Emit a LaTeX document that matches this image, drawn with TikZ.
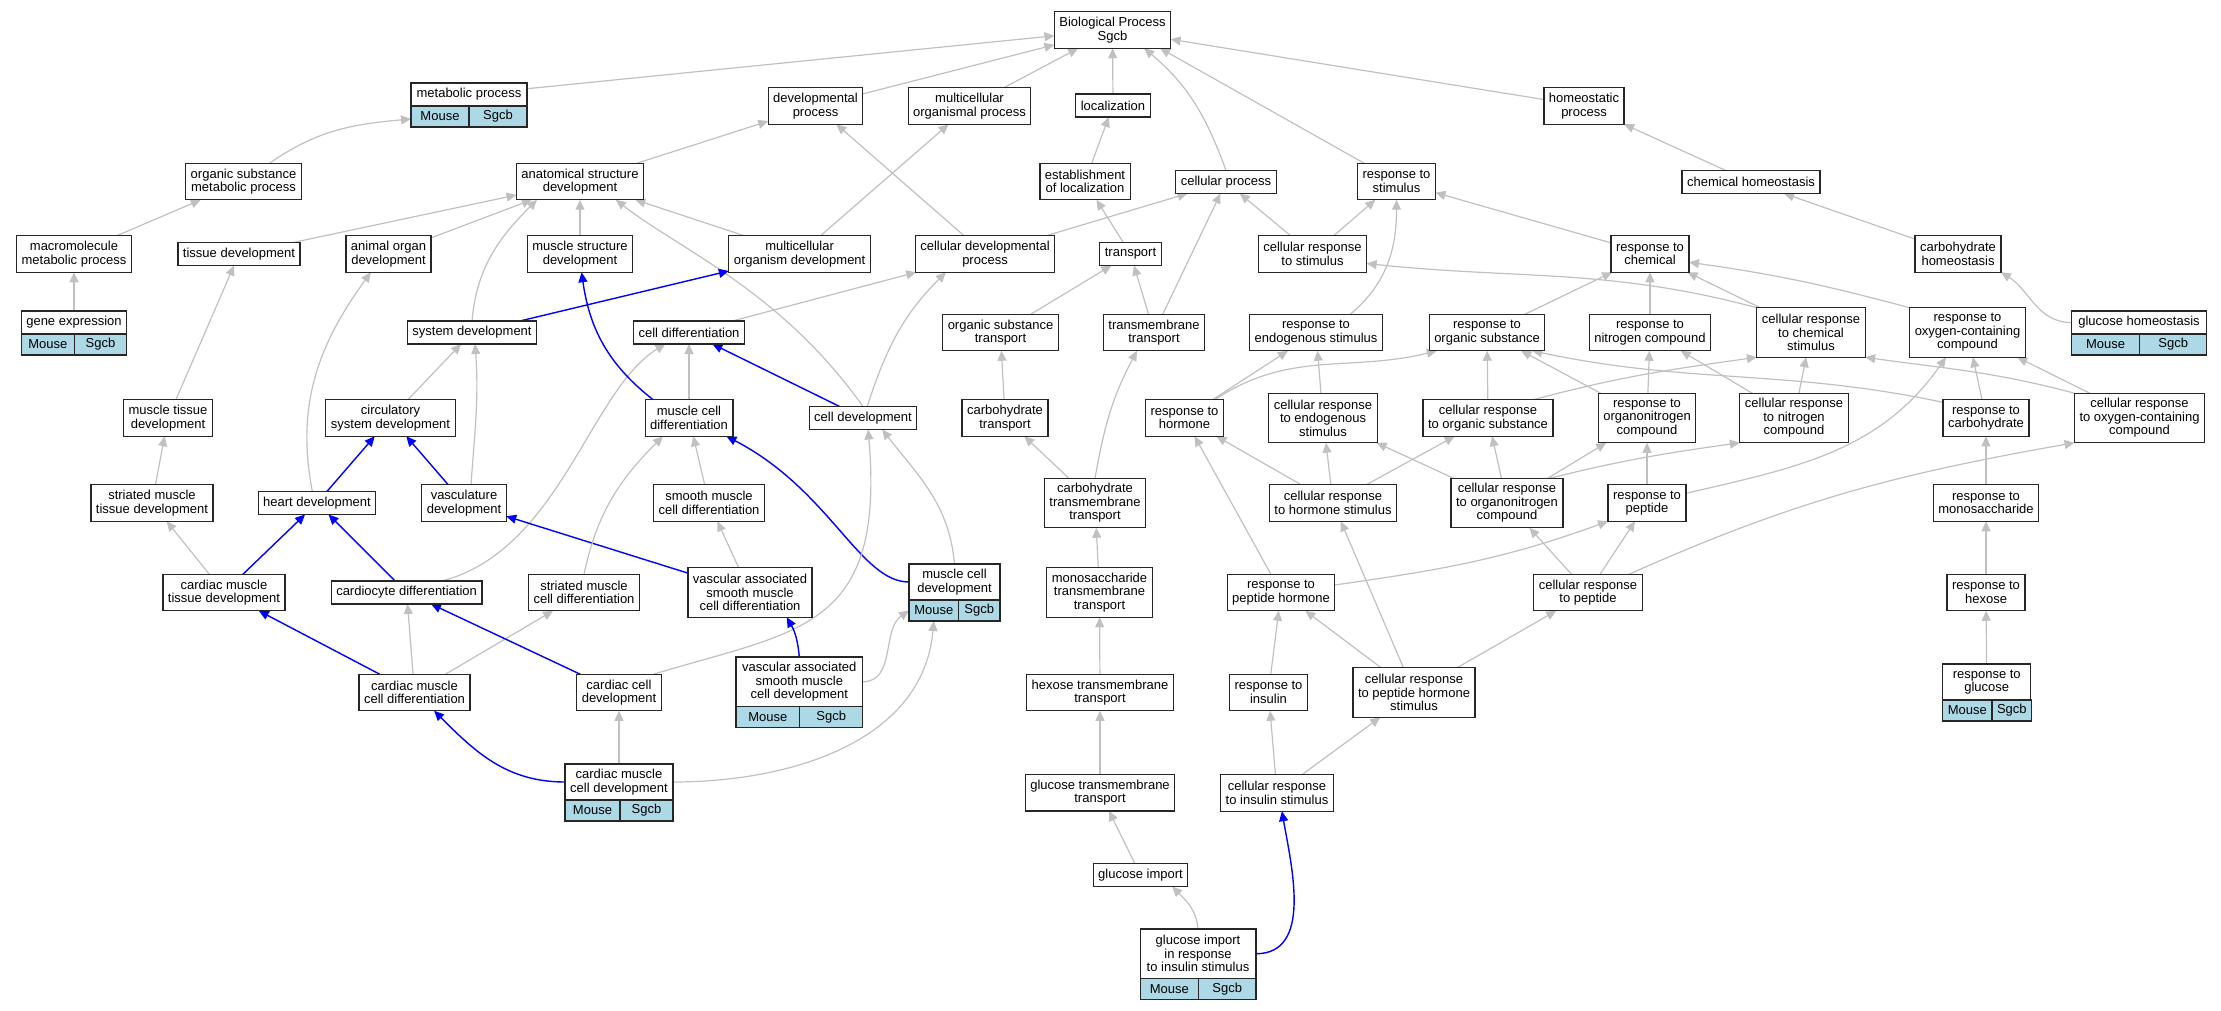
\documentclass[tikz,border=0pt]{standalone}
\usepackage{fontspec}
\setmainfont{Liberation Sans}
\usepackage{tikz}
\usetikzlibrary{arrows.meta,backgrounds}
\definecolor{edgegray}{HTML}{C0C0C0}
\definecolor{cellblue}{HTML}{ADD8E6}

\begin{document}
\begin{tikzpicture}[
    term/.style={rectangle,draw=black!85,line width=1.2pt,fill=white,align=center,
      inner xsep=5pt,inner ysep=1pt,outer sep=0pt,font=\fontsize{13}{13.5}\selectfont},
    term1/.style={term,minimum height=23pt},
    term2/.style={term,minimum height=36.5pt},
    term3/.style={term,minimum height=49.5pt},
    genecell/.style={term,fill=cellblue,minimum height=21pt,anchor=north west},
    isa/.style={draw=edgegray,line width=1.2pt,-{Triangle[length=10pt,width=9pt]}},
    hit/.style={draw=blue,line width=1.4pt,-{Triangle[length=10pt,width=9pt]}},
    x=1pt,y=1pt
    ]
    \useasboundingbox (0,0) rectangle (2221,-1011);
    \node[term2](bp) at (1112.5,-30){Biological Process\\Sgcb};
    \node[term1,minimum width=116pt](metab) at (469,-94.5){metabolic process};
    \node[genecell,minimum width=58pt](metabm) at (metab.south west){Mouse};
    \node[genecell,minimum width=58pt](metabs) at (metabm.north east){Sgcb};
    \node[term2](devp) at (815.5,-106){developmental\\process};
    \node[term2](mop) at (969.5,-106){multicellular\\organismal process};
    \node[term1](loc) at (1113,-105.5){localization};
    \node[term2](hp) at (1584,-106){homeostatic\\process};
    \node[term2](osmp) at (243.5,-181.5){organic substance\\metabolic process};
    \node[term2](asd) at (580,-181.5){anatomical structure\\development};
    \node[term2](estloc) at (1085,-181.5){establishment\\of localization};
    \node[term1](cellp) at (1226,-182){cellular process};
    \node[term2](rstim) at (1396.5,-181.5){response to\\stimulus};
    \node[term1](chemh) at (1751,-182){chemical homeostasis};
    \node[term2](mmp) at (74,-254){macromolecule\\metabolic process};
    \node[term1](tissued) at (239,-254){tissue development};
    \node[term2](aod) at (388.5,-254){animal organ\\development};
    \node[term2](msd) at (580,-254){muscle structure\\development};
    \node[term2](mod) at (799.6,-254){multicellular\\organism development};
    \node[term2](cdp) at (985,-254){cellular developmental\\process};
    \node[term1](transp) at (1130.5,-254){transport};
    \node[term2](crstim) at (1312.5,-254){cellular response\\to stimulus};
    \node[term2](rchem) at (1650,-254){response to\\chemical};
    \node[term2](carbh) at (1958,-254){carbohydrate\\homeostasis};
    \node[term1,minimum width=105.4pt](genex) at (74,-322.5){gene expression};
    \node[genecell,minimum width=53pt](genexm) at (genex.south west){Mouse};
    \node[genecell,minimum width=52.4pt](genexs) at (genexm.north east){Sgcb};
    \node[term1](sysd) at (472,-332.5){system development};
    \node[term1](celldiff) at (689,-332.5){cell differentiation};
    \node[term2](ostr) at (1000.5,-332.5){organic substance\\transport};
    \node[term2](tmt) at (1154,-332.5){transmembrane\\transport};
    \node[term2](rendo) at (1316,-332.5){response to\\endogenous stimulus};
    \node[term2](rorg) at (1487,-332.5){response to\\organic substance};
    \node[term2](rnitro) at (1650,-332.5){response to\\nitrogen compound};
    \node[term3](crchem) at (1811,-332.5){cellular response\\to chemical\\stimulus};
    \node[term3](roxy) at (1967.5,-332.5){response to\\oxygen-containing\\compound};
    \node[term1,minimum width=135.5pt](glch) at (2139,-322.5){glucose homeostasis};
    \node[genecell,minimum width=68.5pt](glchm) at (glch.south west){Mouse};
    \node[genecell,minimum width=67pt](glchs) at (glchm.north east){Sgcb};
    \node[term2](mtd) at (168,-418){muscle tissue\\development};
    \node[term2](csd) at (390.5,-418){circulatory\\system development};
    \node[term2](mcdiff) at (689,-418){muscle cell\\differentiation};
    \node[term1](celldev) at (863,-418){cell development};
    \node[term2](carbtr) at (1005,-418){carbohydrate\\transport};
    \node[term2](rhorm) at (1184.5,-418){response to\\hormone};
    \node[term3](crendo) at (1323,-418){cellular response\\to endogenous\\stimulus};
    \node[term2](crorg) at (1488,-418){cellular response\\to organic substance};
    \node[term3](ronitro) at (1647,-418){response to\\organonitrogen\\compound};
    \node[term3](crnitro) at (1794,-418){cellular response\\to nitrogen\\compound};
    \node[term2](rcarb) at (1986,-418){response to\\carbohydrate};
    \node[term3](croxy) at (2139.5,-418){cellular response\\to oxygen-containing\\compound};
    \node[term2](smtd) at (152,-503){striated muscle\\tissue development};
    \node[term1](heartd) at (317,-503){heart development};
    \node[term2](vascd) at (464,-503){vasculature\\development};
    \node[term2](smcd) at (709,-503){smooth muscle\\cell differentiation};
    \node[term3](cttr) at (1095,-503){carbohydrate\\transmembrane\\transport};
    \node[term2](crhorm) at (1333,-503){cellular response\\to hormone stimulus};
    \node[term3](cronitro) at (1507,-503){cellular response\\to organonitrogen\\compound};
    \node[term2](rpep) at (1647,-503){response to\\peptide};
    \node[term2](rmono) at (1986,-503){response to\\monosaccharide};
    \node[term2](cmtd) at (224,-592.5){cardiac muscle\\tissue development};
    \node[term1](cardio) at (406.6,-592.5){cardiocyte differentiation};
    \node[term2](strmcd) at (584,-592.5){striated muscle\\cell differentiation};
    \node[term3](vasmcd) at (750,-592.5){vascular associated\\smooth muscle\\cell differentiation};
    \node[term2,minimum height=36pt,minimum width=91pt](mcdev) at (954.5,-582){muscle cell\\development};
    \node[genecell,minimum width=49.6pt](mcdevm) at (mcdev.south west){Mouse};
    \node[genecell,minimum width=41.4pt](mcdevs) at (mcdevm.north east){Sgcb};
    \node[term3](mstr) at (1099.5,-592.5){monosaccharide\\transmembrane\\transport};
    \node[term2](rphorm) at (1281,-592.5){response to\\peptide hormone};
    \node[term2](crpep) at (1588,-592.5){cellular response\\to peptide};
    \node[term2](rhex) at (1986,-592.5){response to\\hexose};
    \node[term2](cmcd) at (414.5,-692.5){cardiac muscle\\cell differentiation};
    \node[term2](ccd) at (619,-692.5){cardiac cell\\development};
    \node[term3,minimum width=126.6pt](vasdev) at (799.3,-681.75){vascular associated\\smooth muscle\\cell development};
    \node[genecell,minimum width=63.8pt](vasdevm) at (vasdev.south west){Mouse};
    \node[genecell,minimum width=62.8pt](vasdevs) at (vasdevm.north east){Sgcb};
    \node[term2](htr) at (1100,-692.5){hexose transmembrane\\transport};
    \node[term2](rins) at (1268.5,-692.5){response to\\insulin};
    \node[term3](crphorm) at (1414,-692.5){cellular response\\to peptide hormone\\stimulus};
    \node[term2,minimum height=36pt,minimum width=88pt](rgluc) at (1986.7,-682){response to\\glucose};
    \node[genecell,minimum width=49.3pt](rglucm) at (rgluc.south west){Mouse};
    \node[genecell,minimum width=38.7pt](rglucs) at (rglucm.north east){Sgcb};
    \node[term2,minimum height=36pt,minimum width=108pt](cmcdev) at (619,-782){cardiac muscle\\cell development};
    \node[genecell,minimum width=55pt](cmcdevm) at (cmcdev.south west){Mouse};
    \node[genecell,minimum width=53pt](cmcdevs) at (cmcdevm.north east){Sgcb};
    \node[term2](gtr) at (1100,-792.7){glucose transmembrane\\transport};
    \node[term2](crins) at (1277,-793){cellular response\\to insulin stimulus};
    \node[term1](gimp) at (1140.5,-875){glucose import};
    \node[term3,minimum width=115.8pt](girs) at (1198,-953.75){glucose import\\in response\\to insulin stimulus};
    \node[genecell,minimum width=58.4pt](girsm) at (girs.south west){Mouse};
    \node[genecell,minimum width=57.4pt](girss) at (girsm.north east){Sgcb};
    \begin{scope}[on background layer]
    \draw[isa] (metab) -- (bp);
    \draw[isa] (devp) -- (bp);
    \draw[isa] (mop) -- (bp);
    \draw[isa] (loc) -- (bp);
    \draw[isa] (cellp.north) to[out=110,in=-40] (bp.-30);
    \draw[isa] (rstim) -- (bp.-21);
    \draw[isa] (hp) -- (bp);
    \draw[isa] (osmp) to[out=35,in=185] (metabm);
    \draw[isa] (mmp) -- (osmp);
    \draw[isa] (genex) -- (mmp);
    \draw[isa] (asd) -- (devp);
    \draw[isa] (tissued) -- (asd);
    \draw[isa] (aod) -- (asd);
    \draw[isa] (msd) -- (asd);
    \draw[isa] (sysd.north) to[out=85,in=225] (asd.203);
    \draw[isa] (mod) -- (asd);
    \draw[isa] (celldev.north) .. controls (780,-290) and (680,-250) .. (asd.-27);
    \draw[isa] (mod) -- (mop);
    \draw[isa] (cdp) -- (devp);
    \draw[isa] (cdp) -- (cellp);
    \draw[isa] (celldiff) -- (cdp);
    \draw[isa] (celldev.70) to[out=72,in=225] (cdp.205);
    \draw[isa] (estloc) -- (loc);
    \draw[isa] (transp) -- (estloc);
    \draw[isa] (tmt) -- (transp);
    \draw[isa] (tmt) -- (cellp);
    \draw[isa] (ostr) -- (transp);
    \draw[isa] (crstim) -- (cellp);
    \draw[isa] (crstim) -- (rstim);
    \draw[isa] (rendo.28) to[out=40,in=-90] (rstim.south);
    \draw[isa] (rchem) -- (rstim);
    \draw[isa] (crchem.north west) to[out=165,in=-6] (crstim.-10);
    \draw[isa] (crchem) -- (rchem);
    \draw[isa] (rorg) -- (rchem);
    \draw[isa] (rnitro) -- (rchem);
    \draw[isa] (roxy.north west) to[out=165,in=-8] (rchem.-12);
    \draw[isa] (chemh) -- (hp);
    \draw[isa] (carbh) -- (chemh);
    \draw[isa] (glch.west) to[out=180,in=-32] (carbh.-23);
    \draw[hit] (sysd) -- (mod);
    \draw[isa] (mtd) -- (tissued);
    \draw[isa] (heartd.112) to[out=101,in=-126] (aod.-134);
    \draw[isa] (csd) -- (sysd);
    \draw[isa] (vascd.69) to[out=86,in=-86] (sysd.-75);
    \draw[hit] (heartd) -- (csd);
    \draw[hit] (vascd) -- (csd);
    \draw[isa] (smtd) -- (mtd);
    \draw[isa] (cmtd) -- (smtd);
    \draw[hit] (cmtd) -- (heartd);
    \draw[hit] (cardio) -- (heartd);
    \draw[isa] (cardio.18) .. controls (560,-550) and (590,-390) .. (celldiff.-154);
    \draw[hit] (vasmcd) -- (vascd);
    \draw[hit] (mcdiff.153) to[out=142,in=-82] (msd.-85);
    \draw[isa] (mcdiff) -- (celldiff);
    \draw[hit] (celldev) -- (celldiff);
    \draw[isa] (strmcd.north) to[out=78,in=-135] (mcdiff.-145);
    \draw[isa] (smcd) -- (mcdiff);
    \draw[isa] (vasmcd) -- (smcd);
    \draw[hit] (mcdev.west) .. controls (860,-582) and (830,-490) .. (mcdiff.-26);
    \draw[isa] (mcdev.north) to[out=95,in=-52] (celldev.-31);
    \draw[hit] (cmcd) -- (cmtd);
    \draw[isa] (cmcd) -- (cardio);
    \draw[isa] (cmcd) -- (strmcd);
    \draw[hit] (ccd) -- (cardio);
    \draw[isa] (ccd.28) .. controls (800,-630) and (885,-630) .. (celldev.-66);
    \draw[hit] (vasdev.north) to[out=95,in=-60] (vasmcd.-34);
    \draw[isa] (vasdev.east) to[out=0,in=215] (mcdevm.west);
    \draw[hit] (cmcdev.west) to[out=180,in=-45] (cmcd.-43);
    \draw[isa] (cmcdev) -- (ccd);
    \draw[isa] (cmcdev.east) to[out=0,in=-95] (mcdevm.south);
    \draw[isa] (carbtr) -- (ostr);
    \draw[isa] (cttr) -- (carbtr);
    \draw[isa] (cttr.north) to[out=80,in=-118] (tmt.-133);
    \draw[isa] (mstr) -- (cttr);
    \draw[isa] (htr) -- (mstr);
    \draw[isa] (gtr) -- (htr);
    \draw[isa] (gimp) -- (gtr);
    \draw[isa] (girs.north) to[out=95,in=-45] (gimp.-20);
    \draw[hit] (girs.east) to[out=0,in=-80] (crins.-75);
    \draw[isa] (rhorm) -- (rendo);
    \draw[isa] (rhorm.31) to[out=34,in=194] (rorg.-160);
    \draw[isa] (crendo) -- (rendo);
    \draw[isa] (crorg) -- (rorg);
    \draw[isa] (crorg.22) to[out=15,in=188] (crchem.south west);
    \draw[isa] (ronitro) -- (rorg);
    \draw[isa] (ronitro) -- (rnitro);
    \draw[isa] (crnitro) -- (rnitro);
    \draw[isa] (crnitro) -- (crchem);
    \draw[isa] (rcarb.160) to[out=168,in=-12] (rorg.-22);
    \draw[isa] (rcarb) -- (roxy);
    \draw[isa] (croxy) -- (roxy);
    \draw[isa] (croxy.north west) to[out=165,in=-8] (crchem.south east);
    \draw[isa] (rmono) -- (rcarb);
    \draw[isa] (rhex) -- (rmono);
    \draw[isa] (rgluc) -- (rhex);
    \draw[isa] (crhorm) -- (rhorm);
    \draw[isa] (crhorm) -- (crendo);
    \draw[isa] (crhorm) -- (crorg);
    \draw[isa] (cronitro) -- (crendo);
    \draw[isa] (cronitro) -- (crorg);
    \draw[isa] (cronitro) -- (ronitro);
    \draw[isa] (cronitro.30) to[out=14,in=188] (crnitro.south west);
    \draw[isa] (rpep) -- (ronitro);
    \draw[isa] (rpep.14) to[out=13,in=-125] (roxy.-131);
    \draw[isa] (rphorm) -- (rhorm);
    \draw[isa] (rphorm.8) to[out=8,in=200] (rpep.south west);
    \draw[isa] (crpep) -- (cronitro);
    \draw[isa] (crpep) -- (rpep);
    \draw[isa] (crpep.24) to[out=24,in=190] (croxy.south west);
    \draw[isa] (crphorm) -- (rphorm);
    \draw[isa] (crphorm) -- (crhorm);
    \draw[isa] (crphorm) -- (crpep);
    \draw[isa] (rins) -- (rphorm);
    \draw[isa] (crins) -- (rins);
    \draw[isa] (crins) -- (crphorm);
    \end{scope}
\end{tikzpicture}
\end{document}
